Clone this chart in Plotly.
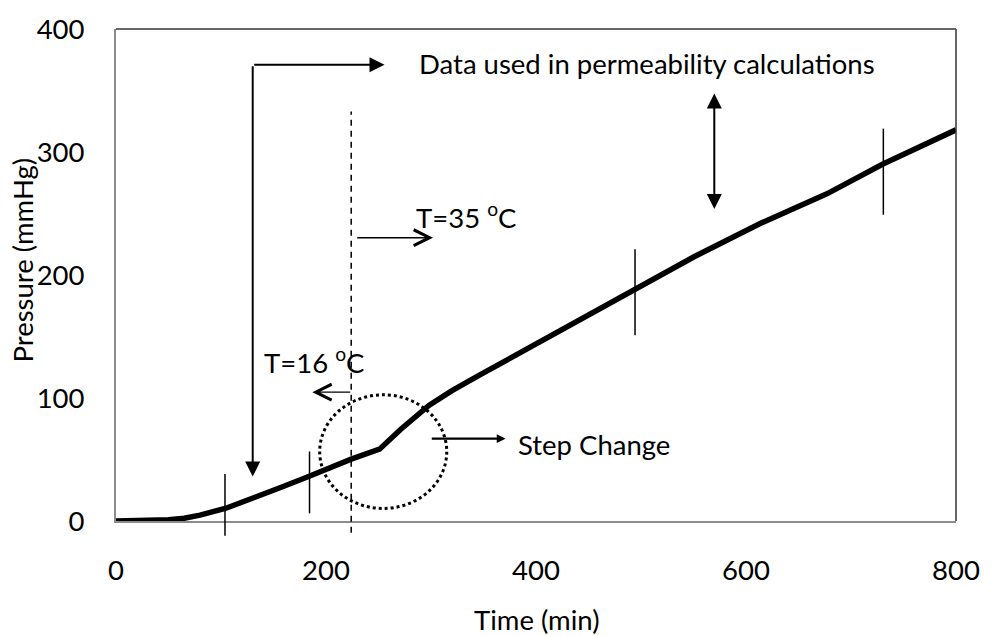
import plotly.graph_objects as go

# ---- data ----
time_min = [0, 20, 35, 50, 65, 80, 104, 130, 158, 184, 224, 251, 271, 298, 320, 347, 362,
            394, 416, 476, 494, 551, 614, 677, 730, 800]
pressure = [0, 0, 0.3, 1, 2.2, 4.8, 10.2, 18.2, 27.6, 36.4, 50.3, 58.4, 74.4, 94, 106, 119, 126,
            141, 151, 179, 188, 215, 242, 266, 290, 318]

x_ticks = [0, 200, 400, 600, 800]
y_ticks = [0, 100, 200, 300, 400]

# short vertical marker lines (x, y_from, y_to)
marker_x = [103.8, 184.3, 494.3, 730.8]
marker_y0 = [-12, 6.2, 151, 249]
marker_y1 = [38.3, 56.5, 221, 319]

# dashed temperature-change line
step_x = 224
step_y0 = -9.6
step_y1 = 333

YMAX = 400
FONT = "Lato"
FS = 27.5

fig = go.Figure()
fig.add_trace(go.Scatter(x=time_min, y=pressure, mode="lines",
                         line=dict(color="black", width=5.5),
                         showlegend=False, hoverinfo="skip"))

shapes = []
for mx, a, b in zip(marker_x, marker_y0, marker_y1):
    shapes.append(dict(type="line", xref="x", yref="paper", x0=mx, x1=mx,
                       y0=a / YMAX, y1=b / YMAX, line=dict(color="black", width=1.5)))
shapes.append(dict(type="line", xref="x", yref="paper", x0=step_x, x1=step_x,
                   y0=step_y0 / YMAX, y1=step_y1 / YMAX,
                   line=dict(color="black", width=1.5, dash="6px,5px")))
# dotted circle
shapes.append(dict(type="circle", xref="x", yref="y", x0=194, x1=315, y0=10.2, y1=102.6,
                   line=dict(color="black", width=3, dash="dot")))
# top and right frame lines
shapes.append(dict(type="line", xref="paper", yref="paper", x0=0, x1=1, y0=1, y1=1,
                   line=dict(color="#333333", width=1.5)))
shapes.append(dict(type="line", xref="paper", yref="paper", x0=1, x1=1, y0=0, y1=1,
                   line=dict(color="#333333", width=1.5)))

ann = []
# bent arrow (down and right)
ann.append(dict(x=130.2, y=36.1, ax=130.2, ay=371, xref="x", yref="y", axref="x", ayref="y",
                text="", showarrow=True, arrowhead=2, arrowsize=1.5, arrowwidth=2,
                arrowcolor="black"))
ann.append(dict(x=255.7, y=371, ax=130.2, ay=371, xref="x", yref="y", axref="x", ayref="y",
                text="", showarrow=True, arrowhead=2, arrowsize=1.5, arrowwidth=2,
                arrowcolor="black"))
# double-headed arrow
ann.append(dict(x=569.8, y=347.5, ax=569.8, ay=252.5, xref="x", yref="y", axref="x", ayref="y",
                text="", showarrow=True, arrowhead=2, startarrowhead=2, arrowside="end+start",
                arrowsize=1.5, startarrowsize=1.5, arrowwidth=2, arrowcolor="black"))
# T=35 arrow (open head)
ann.append(dict(x=301.9, y=230.3, ax=228.3, ay=230.3, xref="x", yref="y", axref="x", ayref="y",
                text="", showarrow=True, arrowhead=5, arrowsize=2.4, arrowwidth=1.3,
                arrowcolor="black"))
# T=16 arrow (open head)
ann.append(dict(x=187, y=104.7, ax=224.5, ay=104.7, xref="x", yref="y", axref="x", ayref="y",
                text="", showarrow=True, arrowhead=5, arrowsize=2.4, arrowwidth=1.3,
                arrowcolor="black"))
# step change arrow
ann.append(dict(x=371, y=66.9, ax=299.3, ay=66.9, xref="x", yref="y", axref="x", ayref="y",
                text="", showarrow=True, arrowhead=2, arrowsize=0.8, arrowwidth=2.2,
                arrowcolor="black"))

tf = dict(family=FONT, size=FS, color="black")
ann.append(dict(x=506.1, y=371.9, xref="x", yref="y", text="Data used in permeability calculations",
                showarrow=False, xanchor="center", yanchor="middle", font=tf))
ann.append(dict(x=284, y=248, xref="x", yref="y", text="T=35 <sup>o</sup>C",
                showarrow=False, xanchor="left", yanchor="middle", font=tf))
ann.append(dict(x=139, y=130.5, xref="x", yref="y", text="T=16 <sup>o</sup>C",
                showarrow=False, xanchor="left", yanchor="middle", font=tf))
ann.append(dict(x=380.5, y=61.8, xref="x", yref="y", text="Step Change",
                showarrow=False, xanchor="left", yanchor="middle", font=tf))
# axis titles
ann.append(dict(x=0.5, y=-0.2008, xref="paper", yref="paper", text="Time (min)",
                showarrow=False, xanchor="center", yanchor="middle", font=tf))
ann.append(dict(x=-0.111, y=0.531, xref="paper", yref="paper", text="Pressure (mmHg)",
                textangle=-90, showarrow=False, xanchor="center", yanchor="middle", font=tf))

fig.update_layout(
    width=992, height=636,
    margin=dict(l=116, r=28, t=23, b=115),
    paper_bgcolor="white", plot_bgcolor="white",
    shapes=shapes, annotations=ann,
    font=dict(family=FONT, size=FS, color="black"),
    xaxis=dict(range=[0, 800], tickvals=x_ticks, ticktext=[str(v) for v in x_ticks],
               showgrid=False, zeroline=False, showline=True, linecolor="#8c8c8c", linewidth=2,
               ticks="", ticklabelstandoff=24, tickfont=tf),
    yaxis=dict(range=[0, YMAX], tickvals=y_ticks, ticktext=[str(v) for v in y_ticks],
               showgrid=False, zeroline=False, showline=True, linecolor="#8c8c8c", linewidth=2,
               ticks="", ticklabelstandoff=24, tickfont=tf),
)

fig.write_html("out.html")
